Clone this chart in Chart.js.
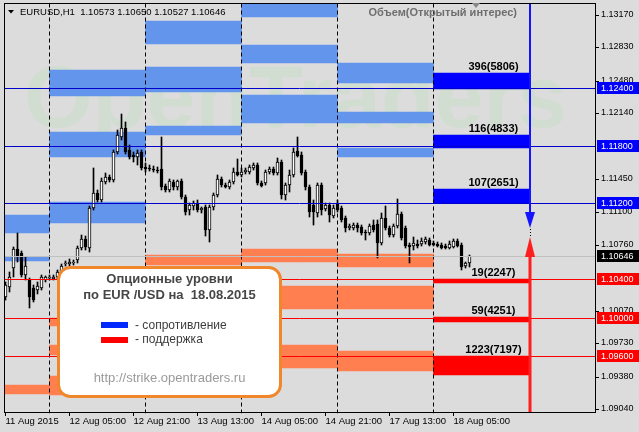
<!DOCTYPE html>
<html><head><meta charset="utf-8">
<script src="https://cdn.jsdelivr.net/npm/chart.js@4.4.1/dist/chart.umd.min.js"></script>
<style>html,body{margin:0;padding:0;background:#dcdcdc;overflow:hidden}canvas{display:block}</style>
</head><body>
<canvas id="c" width="639" height="432"></canvas>
<script>
// ---------------- DATA ----------------
const headerText = "EURUSD,H1  1.10573 1.10650 1.10527 1.10646";
const volumeTitle = "Объем(Открытый интерес)";
const watermarkText = "OpenTraders";
const legendTitle1 = "Опционные уровни";
const legendTitle2 = "по EUR /USD на  18.08.2015";
const legendResist = "- сопротивление";
const legendSupport = "- поддержка";
const legendUrl = "http://strike.opentraders.ru";

// hours counted from 12 Aug 2015 00:00 (trading hours); first visible bar = 11 Aug 13:00
const firstBarHour = -11;
const opens = [1.10215,1.10320,1.10518,1.10718,1.10676,1.10446,1.10393,1.10309,1.10288,1.10309,1.10393,
1.10414,1.10404,1.10425,1.10477,1.10560,1.10560,1.10571,1.10602,1.10728,1.10822,1.10728,1.11146,1.11304,1.11230,1.11419,1.11471,1.11440,1.11733,1.11890,1.11984,1.11754,1.11702,1.11681,1.11733,
1.11576,1.11565,1.11555,1.11544,1.11555,1.11377,1.11335,1.11419,1.11367,1.11430,1.11262,1.11126,1.11167,1.11199,1.11126,1.11157,1.10916,1.11157,1.11283,1.11450,1.11388,1.11367,1.11419,1.11523,
1.11492,1.11523,1.11523,1.11565,1.11597,1.11409,1.11409,1.11523,1.11555,1.11513,1.11628,1.11283,1.11388,1.11492,1.11744,1.11702,1.11523,1.11367,1.11178,1.11095,1.11388,1.11136,1.11178,1.11063,
1.11199,1.11146,1.11042,1.10937,1.10937,1.10969,1.10948,1.10895,1.10885,1.10969,1.10979,1.10781,1.11042,1.10937,1.10864,1.10958,1.11084,1.10937,1.10760,1.10749,1.10770,1.10770,1.10791,1.10812,
1.10781,1.10770,1.10760,1.10749,1.10728,1.10739,1.10802,1.10760,1.10539,1.10573];
const highs = [1.10372,1.10477,1.10739,1.10885,1.10697,1.10634,1.10414,1.10341,1.10372,1.10446,1.10435,
1.10446,1.10446,1.10498,1.10560,1.10592,1.10613,1.10602,1.10749,1.10864,1.10853,1.11167,1.11565,1.11335,1.11460,1.11513,1.11492,1.11754,1.11963,1.12130,1.12047,1.11806,1.11733,1.11754,1.11754,
1.11618,1.11597,1.11586,1.11576,1.11890,1.11398,1.11450,1.11440,1.11440,1.11450,1.11283,1.11199,1.11220,1.11230,1.11157,1.11178,1.11178,1.11304,1.11492,1.11471,1.11409,1.11440,1.11565,1.11660,
1.11565,1.11565,1.11597,1.11618,1.11618,1.11430,1.11544,1.11576,1.11576,1.11670,1.11649,1.11409,1.11544,1.11775,1.11890,1.11733,1.11544,1.11388,1.11230,1.11409,1.11409,1.11199,1.11199,1.11178,
1.11230,1.11167,1.11063,1.10979,1.10990,1.10990,1.10969,1.10916,1.10979,1.11021,1.11021,1.11095,1.11167,1.10958,1.10979,1.11241,1.11105,1.10958,1.10781,1.10843,1.10812,1.10832,1.10843,1.10832,
1.10802,1.10791,1.10781,1.10770,1.10802,1.10822,1.10822,1.10781,1.10581,1.10650];
const lows = [1.10184,1.10267,1.10425,1.10581,1.10425,1.10393,1.10100,1.10163,1.10246,1.10288,1.10372,
1.10393,1.10393,1.10404,1.10456,1.10539,1.10539,1.10550,1.10571,1.10707,1.10707,1.10686,1.11126,1.11209,1.11209,1.11398,1.11419,1.11419,1.11712,1.11858,1.11712,1.11660,1.11628,1.11597,1.11544,
1.11523,1.11534,1.11523,1.11513,1.11335,1.11314,1.11314,1.11335,1.11335,1.11241,1.11074,1.11074,1.11126,1.11105,1.11095,1.10853,1.10791,1.11126,1.11262,1.11367,1.11356,1.11346,1.11398,1.11481,
1.11471,1.11502,1.11502,1.11544,1.11388,1.11367,1.11388,1.11502,1.11492,1.11492,1.11241,1.11230,1.11314,1.11471,1.11681,1.11492,1.11335,1.11053,1.10969,1.11053,1.11074,1.11115,1.11000,1.11042,
1.11105,1.11000,1.10895,1.10916,1.10916,1.10895,1.10864,1.10812,1.10864,1.10895,1.10623,1.10760,1.10916,1.10843,1.10843,1.10937,1.10812,1.10728,1.10571,1.10707,1.10728,1.10749,1.10770,1.10749,
1.10749,1.10739,1.10718,1.10718,1.10718,1.10728,1.10739,1.10498,1.10518,1.10527];
const closes = [1.10341,1.10425,1.10718,1.10634,1.10446,1.10539,1.10215,1.10184,1.10330,1.10425,1.10425,
1.10425,1.10425,1.10477,1.10539,1.10571,1.10581,1.10581,1.10728,1.10822,1.10739,1.11146,1.11304,1.11230,1.11430,1.11471,1.11440,1.11733,1.11911,1.11984,1.11733,1.11681,1.11681,1.11723,1.11565,
1.11555,1.11555,1.11544,1.11534,1.11367,1.11335,1.11430,1.11367,1.11430,1.11262,1.11105,1.11178,1.11199,1.11126,1.11146,1.10916,1.11157,1.11283,1.11450,1.11388,1.11367,1.11419,1.11523,1.11492,
1.11523,1.11544,1.11576,1.11597,1.11409,1.11377,1.11523,1.11555,1.11513,1.11628,1.11283,1.11388,1.11492,1.11733,1.11691,1.11513,1.11367,1.11105,1.11105,1.11388,1.11126,1.11178,1.11074,1.11146,
1.11126,1.11021,1.10937,1.10958,1.10969,1.10937,1.10885,1.10885,1.10958,1.10916,1.10781,1.11042,1.10937,1.10864,1.10958,1.11084,1.10832,1.10749,1.10739,1.10781,1.10749,1.10802,1.10822,1.10760,
1.10760,1.10749,1.10728,1.10728,1.10770,1.10802,1.10749,1.10529,1.10571,1.10646];

const timeTickHours = [-11,5,21,37,53,69,85,101];
const timeTickLabels = ["11 Aug 2015","12 Aug 05:00","12 Aug 21:00","13 Aug 13:00","14 Aug 05:00","14 Aug 21:00","17 Aug 13:00","18 Aug 05:00"];
const daySeparatorHours = [0,24,48,72,96];
const priceTicks = [1.13170,1.12830,1.12480,1.12140,1.11450,1.11100,1.10760,1.10070,1.09730,1.09380,1.09040];

const resistanceLevels = [1.1240,1.1180,1.1120];
const supportLevels = [1.1040,1.1000,1.0960];
const currentPrice = 1.10646;

// option zones of previous days (day-centre hour, low, high)
const resistZoneHour = [-12,-12,12,12,12,36,36,36,60,60,60,84,84,84];
const resistZoneLow  = [1.10885,1.10592,1.12319,1.11680,1.10989,1.12863,1.12361,1.11911,1.13146,1.12664,1.12036,1.12455,1.12036,1.11680];
const resistZoneHigh = [1.11073,1.10633,1.12591,1.11942,1.11209,1.13104,1.12622,1.12005,1.13282,1.12853,1.12329,1.12664,1.12151,1.11775];
const supportZoneHour = [-12,12,12,12,36,60,60,60,84,84,84];
const supportZoneLow  = [1.09199,1.09911,1.09607,1.09189,1.10550,1.10581,1.10089,1.09471,1.10529,1.10089,1.09440];
const supportZoneHigh = [1.09293,1.09995,1.09712,1.09388,1.10654,1.10717,1.10330,1.09712,1.10665,1.10330,1.09649];

// today's option volume bars (18 Aug)
const todayHour = 108;
const resistVolume = [396,116,107];
const resistOI = [5806,4833,2651];
const resistBarLow  = [1.12392,1.11775,1.11197];
const resistBarHigh = [1.12560,1.11911,1.11345];
const supportVolume = [19,59,1223];
const supportOI = [2247,4251,7197];
const supportBarLow  = [1.10361,1.09953,1.09398];
const supportBarHigh = [1.10400,1.10005,1.09600];

const arrowHour = 120.125;
const blueArrowTip = 1.10938;
const redArrowTip = 1.10844;
const labelHour = 111;

// ---------------- CHART ----------------
const BG = '#dcdcdc';
const FONT = '"Liberation Sans", Arial, sans-serif';
const xMin = -11.375, xMax = 136.375;
const yMin = 1.09001, yMax = 1.13292;

const zoneBar = (hours, lo, hi, color, order) => ({
  type: 'bar',
  data: hours.map((h, i) => ({x: h, y: [lo[i], hi[i]]})),
  backgroundColor: color, borderWidth: 0, barThickness: 96, grouped: false, order
});
const hLine = (v, color, order) => ({
  type: 'line', data: [{x: xMin, y: v}, {x: xMax, y: v}],
  borderColor: color, borderWidth: 1, pointRadius: 0, fill: false, order
});

const datasets = [
  zoneBar(resistZoneHour, resistZoneLow, resistZoneHigh, '#6495ed', 30),
  zoneBar(supportZoneHour, supportZoneLow, supportZoneHigh, '#ff7f50', 30),
  zoneBar(resistVolume.map(() => todayHour), resistBarLow, resistBarHigh, '#0000ff', 29),
  zoneBar(supportVolume.map(() => todayHour), supportBarLow, supportBarHigh, '#ff0000', 29),
  ...daySeparatorHours.map(h => ({
    type: 'line', data: [{x: h, y: yMin}, {x: h, y: yMax}],
    borderColor: '#000', borderWidth: 1, borderDash: [4, 3], pointRadius: 0, fill: false, order: 25
  })),
  {
    type: 'bar',
    data: lows.map((l, i) => ({x: firstBarHour + i, y: [l, highs[i]]})),
    backgroundColor: '#000', borderWidth: 0, barThickness: 1, grouped: false, order: 12
  },
  {
    type: 'bar',
    data: opens.map((o, i) => ({x: firstBarHour + i, y: [o, closes[i]]})),
    backgroundColor: opens.map((o, i) => closes[i] > o ? '#ffffff' : '#000000'),
    borderColor: '#000', borderWidth: 1, borderSkipped: false, barThickness: 3, grouped: false, order: 11
  },
  hLine(currentPrice, '#c0c0c0', 6),
  ...resistanceLevels.map(v => hLine(v, '#0000cc', 5)),
  ...supportLevels.map(v => hLine(v, '#ff0000', 5))
];

function roundRectPath(c, x, y, w, h, r) {
  c.beginPath();
  c.moveTo(x + r, y); c.lineTo(x + w - r, y); c.arcTo(x + w, y, x + w, y + r, r);
  c.lineTo(x + w, y + h - r); c.arcTo(x + w, y + h, x + w - r, y + h, r);
  c.lineTo(x + r, y + h); c.arcTo(x, y + h, x, y + h - r, r);
  c.lineTo(x, y + r); c.arcTo(x, y, x + r, y, r); c.closePath();
}

const mt4Plugin = {
  id: 'mt4',
  beforeDraw(chart) {
    const c = chart.ctx; c.save(); c.fillStyle = BG; c.fillRect(0, 0, chart.width, chart.height); c.restore();
  },
  beforeDatasetsDraw(chart) {
    const c = chart.ctx, a = chart.chartArea;
    c.save(); c.beginPath(); c.rect(a.left, a.top, a.right - a.left, a.bottom - a.top); c.clip();
    c.fillStyle = 'rgb(209,221,209)';
    c.font = 'bold 88px ' + FONT; c.textAlign = 'left'; c.textBaseline = 'alphabetic';
    c.fillText(watermarkText, 24, 127);
    c.restore();
  },
  beforeDatasetDraw(chart, args) {
    if (args.meta.type === 'line') { chart.ctx.save(); chart.ctx.translate(0, 0.5); }
  },
  afterDatasetDraw(chart, args) {
    if (args.meta.type === 'line') chart.ctx.restore();
  },
  afterDatasetsDraw(chart) {
    const c = chart.ctx, xs = chart.scales.x, ys = chart.scales.y, a = chart.chartArea;
    const ax = Math.round(xs.getPixelForValue(arrowHour));
    const bt = ys.getPixelForValue(blueArrowTip), rt = ys.getPixelForValue(redArrowTip);
    c.save();
    // blue arrow (down)
    c.strokeStyle = '#1414ff'; c.lineWidth = 2;
    c.beginPath(); c.moveTo(ax, a.top); c.lineTo(ax, bt - 14); c.stroke();
    c.fillStyle = '#1414ff';
    c.beginPath(); c.moveTo(ax - 5, bt - 16); c.lineTo(ax + 5, bt - 16); c.lineTo(ax, bt); c.closePath(); c.fill();
    // red arrow (up)
    c.strokeStyle = '#ff1e1e'; c.lineWidth = 3;
    c.beginPath(); c.moveTo(ax, a.bottom); c.lineTo(ax, rt + 18); c.stroke();
    c.fillStyle = '#ff1e1e';
    c.beginPath(); c.moveTo(ax - 5, rt + 20); c.lineTo(ax + 5, rt + 20); c.lineTo(ax, rt); c.closePath(); c.fill();
    // dotted link
    c.strokeStyle = '#000'; c.lineWidth = 1; c.setLineDash([1, 2]);
    c.beginPath(); c.moveTo(ax + 0.5, bt + 1); c.lineTo(ax + 0.5, rt - 1); c.stroke();
    c.setLineDash([]);
    // volume labels
    c.fillStyle = '#000'; c.font = 'bold 11px ' + FONT; c.textAlign = 'center'; c.textBaseline = 'middle';
    const lx = xs.getPixelForValue(labelHour);
    resistVolume.forEach((v, i) => c.fillText(v + '(' + resistOI[i] + ')', lx, ys.getPixelForValue(resistBarHigh[i]) - 6));
    supportVolume.forEach((v, i) => c.fillText(v + '(' + supportOI[i] + ')', lx, ys.getPixelForValue(supportBarHigh[i]) - 6));
    c.restore();
  },
  afterDraw(chart) {
    const c = chart.ctx, ys = chart.scales.y, a = chart.chartArea;
    c.save();
    // frame
    c.strokeStyle = '#000'; c.lineWidth = 1;
    c.strokeRect(a.left + 0.5, a.top + 0.5, a.right - a.left, a.bottom - a.top - 1);
    // price labels
    c.font = '9px ' + FONT; c.textAlign = 'left'; c.textBaseline = 'middle';
    const box = (v, bg) => {
      const y = Math.round(ys.getPixelForValue(v));
      c.fillStyle = bg; c.fillRect(597, y - 6, 42, 12);
      c.fillStyle = '#fff'; c.fillText(v.toFixed(5), 601, y + 0.5);
    };
    resistanceLevels.forEach(v => box(v, '#0000ff'));
    supportLevels.forEach(v => box(v, '#ff0000'));
    box(currentPrice, '#000000');
    // header
    c.fillStyle = '#000';
    c.beginPath(); c.moveTo(8, 10); c.lineTo(14, 10); c.lineTo(11, 13.5); c.closePath(); c.fill();
    c.font = '9.5px ' + FONT; c.fillText(headerText, 20, 12.5);
    c.fillStyle = '#888';
    c.beginPath(); c.moveTo(472, 3); c.lineTo(480, 3); c.lineTo(476, 8); c.closePath(); c.fill();
    c.fillStyle = '#6e6e6e'; c.font = 'bold 11px ' + FONT; c.textAlign = 'right';
    c.fillText(volumeTitle, 517, 12.5);
    // legend box
    roundRectPath(c, 58.5, 267.5, 222, 129, 12);
    c.fillStyle = '#fff'; c.fill();
    c.strokeStyle = '#f0872a'; c.lineWidth = 3; c.stroke();
    c.textAlign = 'center'; c.fillStyle = '#464646'; c.font = 'bold 13px ' + FONT;
    c.fillText(legendTitle1, 169.5, 279.5);
    c.fillText(legendTitle2, 169.5, 295.5);
    c.fillStyle = '#0028ff'; c.fillRect(101, 322, 27, 6);
    c.fillStyle = '#ff0000'; c.fillRect(101, 337, 27, 6);
    c.textAlign = 'left'; c.fillStyle = '#3c3c3c'; c.font = '12px ' + FONT;
    c.fillText(legendResist, 135, 325.5);
    c.fillText(legendSupport, 135, 339.5);
    c.textAlign = 'center'; c.fillStyle = '#9a9a9a'; c.font = '13px ' + FONT;
    c.fillText(legendUrl, 169.5, 378);
    c.restore();
  }
};

new Chart(document.getElementById('c'), {
  type: 'bar',
  data: {datasets},
  options: {
    responsive: false, animation: false, devicePixelRatio: 1,
    layout: {padding: {left: 4, top: 3, right: 0, bottom: 0}},
    plugins: {legend: {display: false}, tooltip: {enabled: false}},
    scales: {
      x: {
        type: 'linear', min: xMin, max: xMax, offset: false, position: 'bottom',
        afterBuildTicks: s => { s.ticks = timeTickHours.map(v => ({value: v})); },
        afterFit: s => { s.height = 19; s.paddingLeft = 0; s.paddingRight = 0; },
        ticks: {
          callback: (v, i) => timeTickLabels[i], align: 'start', autoSkip: false,
          maxRotation: 0, minRotation: 0, padding: 0, color: '#000',
          font: {family: FONT, size: 9.5}
        },
        grid: {drawOnChartArea: false, offset: false, tickLength: 3, color: '#000'},
        border: {display: false}
      },
      y: {
        type: 'linear', min: yMin, max: yMax, position: 'right', alignToPixels: true,
        afterBuildTicks: s => { s.ticks = priceTicks.map(v => ({value: v})); },
        afterFit: s => { s.width = 44; s.paddingTop = 0; s.paddingBottom = 0; },
        ticks: {
          callback: v => v.toFixed(5), autoSkip: false, padding: 2, color: '#000',
          font: {family: FONT, size: 9}
        },
        grid: {drawOnChartArea: false, tickLength: 4, color: '#000'},
        border: {display: false}
      }
    }
  },
  plugins: [mt4Plugin]
});
</script>
</body></html>
